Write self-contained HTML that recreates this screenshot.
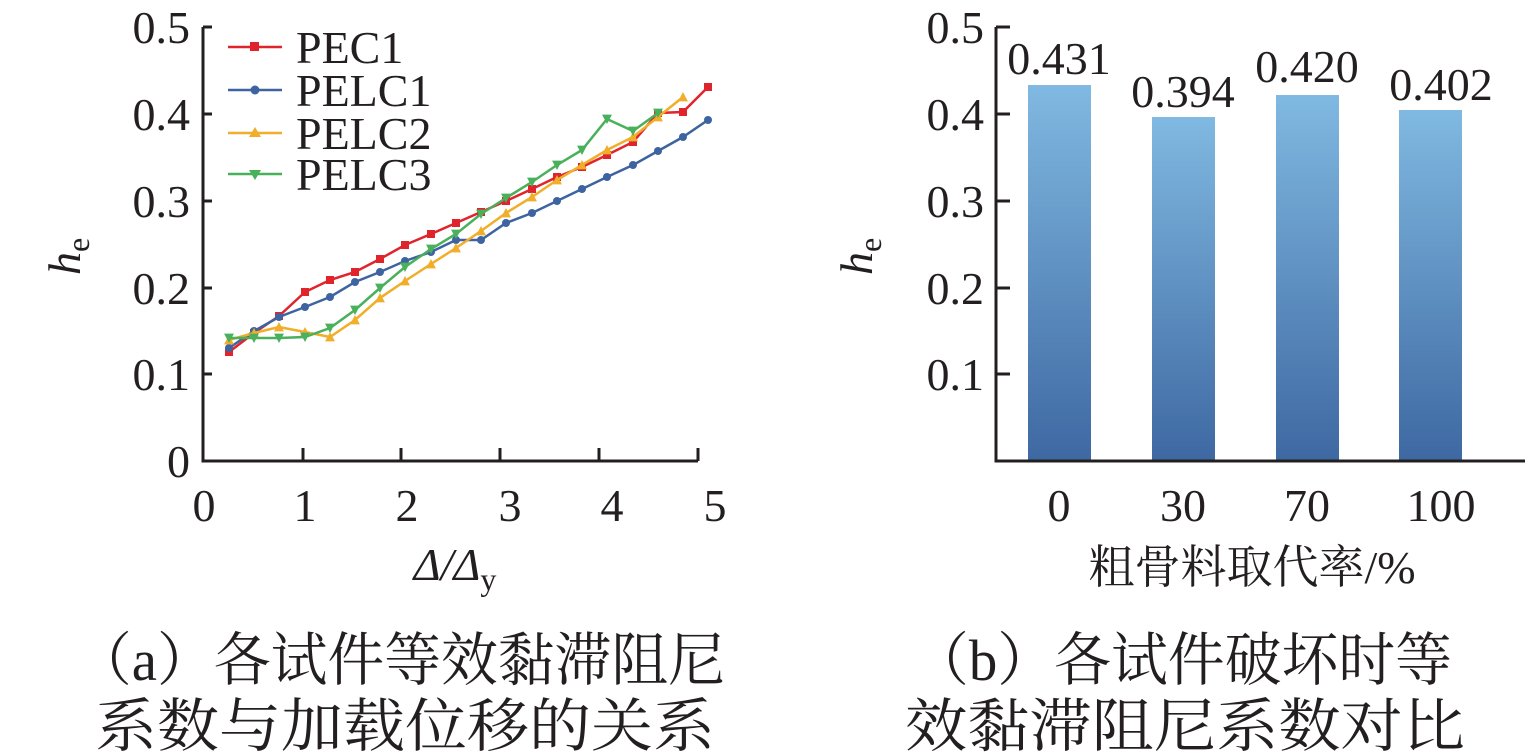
<!DOCTYPE html>
<html><head><meta charset="utf-8"><style>
body{margin:0;background:#fff;}
svg{display:block}
text{font-family:"Liberation Serif","Noto Serif CJK SC",serif;fill:#231f20}
</style></head><body>
<svg width="1535" height="756" viewBox="0 0 1535 756" xmlns="http://www.w3.org/2000/svg">
<defs>
<linearGradient id="g" x1="0" y1="0" x2="0" y2="1">
<stop offset="0" stop-color="#80b9e1"/><stop offset="1" stop-color="#3e68a2"/>
</linearGradient>
<marker id="sq" viewBox="0 0 10 10" refX="5" refY="5" markerWidth="10" markerHeight="10" markerUnits="userSpaceOnUse"><rect x="1" y="1" width="8" height="8" fill="#e0242b"/></marker>
<marker id="ci" viewBox="0 0 10 10" refX="5" refY="5" markerWidth="10" markerHeight="10" markerUnits="userSpaceOnUse"><circle cx="5" cy="5" r="4" fill="#3d64a0"/></marker>
<marker id="tu" viewBox="0 0 10 10" refX="5" refY="5" markerWidth="11" markerHeight="11" markerUnits="userSpaceOnUse"><polygon points="5,0.5 9.5,9 0.5,9" fill="#f0ae2a"/></marker>
<marker id="td" viewBox="0 0 10 10" refX="5" refY="5" markerWidth="11" markerHeight="11" markerUnits="userSpaceOnUse"><polygon points="0.5,1 9.5,1 5,9.5" fill="#49b05b"/></marker>
</defs>
<g stroke="#231f20" stroke-width="3" fill="none">
<path d="M203 27 V461 H698"/>
<path d="M203 27 H212 M203 114 H212 M203 201 H212 M203 288 H212 M203 374 H212"/>
<path d="M303 461 V448 M401 461 V448 M500 461 V448 M599 461 V448 M698 461 V448"/>
</g>
<g font-size="46" text-anchor="end">
<text x="190" y="43">0.5</text><text x="190" y="130">0.4</text><text x="190" y="217">0.3</text><text x="190" y="304">0.2</text><text x="190" y="390">0.1</text><text x="190" y="477">0</text>
</g>
<g font-size="46" text-anchor="middle">
<text x="204" y="521">0</text><text x="305" y="521">1</text><text x="407" y="521">2</text><text x="510" y="521">3</text><text x="612" y="521">4</text><text x="715" y="521">5</text>
</g>
<text x="455" y="580" font-size="46" text-anchor="middle" font-style="italic">Δ/Δ<tspan font-size="32" dy="10" font-style="normal">y</tspan></text>
<text x="0" y="0" font-size="46" font-style="italic" transform="translate(80,275) rotate(-90)">h<tspan font-size="32" dy="9" font-style="normal">e</tspan></text>
<g fill="none" stroke-width="2.5">
<polyline stroke="#e0242b" marker-start="url(#sq)" marker-mid="url(#sq)" marker-end="url(#sq)" points="229,352 254,333 279,316 305,292 330,280 355,272 380,259 405,245 431,234 456,223 481,212 506,201 532,189 557,177 582,167 607,155 633,142 658,113 683,112 708,87"/>
<polyline stroke="#3d64a0" marker-start="url(#ci)" marker-mid="url(#ci)" marker-end="url(#ci)" points="229,348 254,331 279,317 305,307 330,297 355,282 380,272 405,261 431,252 456,240 481,240 506,223 532,213 557,201 582,189 607,177 633,165 658,151 683,137 708,120"/>
<polyline stroke="#f0ae2a" marker-start="url(#tu)" marker-mid="url(#tu)" marker-end="url(#tu)" points="229,340 254,333 279,327 305,332 330,337 355,320 380,298 405,281 431,264 456,248 481,231 506,213 532,197 557,180 582,165 607,150 633,137 658,117 683,97"/>
<polyline stroke="#49b05b" marker-start="url(#td)" marker-mid="url(#td)" marker-end="url(#td)" points="229,338 254,338 279,338 305,337 330,328 355,310 380,288 405,267 431,249 456,234 481,214 506,198 532,182 557,165 582,150 607,119 633,131 658,113"/>
</g>
<g stroke-width="2.5">
<line x1="228" y1="47" x2="282" y2="47" stroke="#e0242b"/><rect x="250" y="42" width="9" height="9" fill="#e0242b"/>
<line x1="228" y1="90" x2="282" y2="90" stroke="#3d64a0"/><circle cx="255" cy="90" r="4.5" fill="#3d64a0"/>
<line x1="228" y1="133" x2="282" y2="133" stroke="#f0ae2a"/><polygon points="255,127 261,137 249,137" fill="#f0ae2a"/>
<line x1="228" y1="174" x2="282" y2="174" stroke="#49b05b"/><polygon points="249,170 261,170 255,180" fill="#49b05b"/>
</g>
<g font-size="46">
<text x="296" y="63">PEC1</text><text x="296" y="106">PELC1</text><text x="296" y="149">PELC2</text><text x="296" y="190">PELC3</text>
</g>
<g fill="url(#g)">
<rect x="1028" y="85" width="63" height="376"/>
<rect x="1152" y="117" width="63" height="344"/>
<rect x="1276" y="95" width="63" height="366"/>
<rect x="1399" y="110" width="63" height="351"/>
</g>
<g stroke="#231f20" stroke-width="3" fill="none">
<path d="M996 27 V461 H1525"/>
<path d="M996 27 H1010 M996 114 H1010 M996 201 H1010 M996 288 H1010 M996 374 H1010"/>
</g>
<g font-size="46" text-anchor="end">
<text x="984" y="43">0.5</text><text x="984" y="130">0.4</text><text x="984" y="217">0.3</text><text x="984" y="304">0.2</text><text x="984" y="390">0.1</text>
</g>
<g font-size="46" text-anchor="middle">
<text x="1059" y="74">0.431</text><text x="1183" y="107">0.394</text><text x="1307" y="82">0.420</text><text x="1441" y="100">0.402</text>
<text x="1059" y="521">0</text><text x="1183" y="521">30</text><text x="1307" y="521">70</text><text x="1441" y="521">100</text>
</g>
<text x="872" y="275" font-size="46" font-style="italic" transform="rotate(-90 872 275)">h<tspan font-size="32" dy="9" font-style="normal">e</tspan></text>
<text x="1252" y="583" font-size="46" text-anchor="middle">粗骨料取代率/%</text>
<g font-size="58">
<text x="75" y="680" textLength="650" lengthAdjust="spacingAndGlyphs">（a）各试件等效黏滞阻尼</text>
<text x="95" y="746" textLength="620" lengthAdjust="spacingAndGlyphs">系数与加载位移的关系</text>
<text x="912" y="680" textLength="540" lengthAdjust="spacingAndGlyphs">（b）各试件破坏时等</text>
<text x="905" y="746" textLength="560" lengthAdjust="spacingAndGlyphs">效黏滞阻尼系数对比</text>
</g>
</svg>
</body></html>
